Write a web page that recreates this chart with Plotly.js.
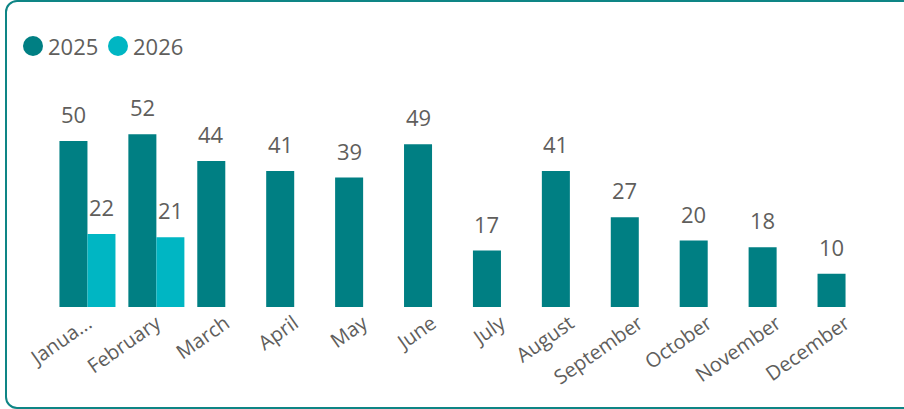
<!DOCTYPE html>
<html>
<head>
<meta charset="utf-8">
<script src="https://cdn.plot.ly/plotly-3.0.1.min.js"></script>
<style>
  html, body { margin:0; padding:0; width:904px; height:409px; overflow:hidden; background:#fff; }
  #frame { position:absolute; left:5px; top:0px; width:920px; height:405px; border:2px solid #0E8585; border-radius:12px; }
  #chart { position:absolute; left:0; top:0; width:904px; height:409px; }
</style>
</head>
<body>
<div id="frame"></div>
<div id="chart"></div>
<script>
const months = ["January","February","March","April","May","June","July","August","September","October","November","December"];
const tickLabels = ["Janua...","February","March","April","May","June","July","August","September","October","November","December"];
const values2025 = [50,52,44,41,39,49,17,41,27,20,18,10];
const values2026 = [22,21,null,null,null,null,null,null,null,null,null,null];
const seriesNames = ["2025","2026"];
const colors = ["#007F83","#00B6C3"];

const FONT = "'Segoe UI','Open Sans',sans-serif";
const TEXT = "#605E5C";

const traces = [
  {type:"bar", name:seriesNames[0], x:months, y:values2025, marker:{color:colors[0]}, showlegend:false},
  {type:"bar", name:seriesNames[1], x:months, y:values2026, marker:{color:colors[1]}, showlegend:false}
];

// plot-area geometry (pixels) for converting legend pixel positions to paper coords
const L = 53, R = 24, T = 100, B = 102, W = 904, H = 409;
const pw = W - L - R, ph = H - T - B;
const px2x = p => (p - L) / pw;
const py2y = p => (H - B - p) / ph;

const annotations = [];
const shapes = [];
[values2025, values2026].forEach((vals, si) => {
  vals.forEach((v, i) => {
    if (v === null) return;
    annotations.push({
      x: months[i], y: v, xref:"x", yref:"y",
      text: String(v), showarrow:false,
      xanchor:"center", yanchor:"middle",
      xshift: si === 0 ? -14 : 14, yshift: 27,
      font:{family:FONT, size:22, color:TEXT}
    });
  });
});

// custom legend: circle + label
const legendCircleX = [33, 118];
const legendY = 46;
seriesNames.forEach((name, si) => {
  shapes.push({
    type:"circle", xref:"paper", yref:"paper",
    xsizemode:"pixel", ysizemode:"pixel",
    xanchor: px2x(legendCircleX[si]), yanchor: py2y(legendY),
    x0:-10, x1:10, y0:-10, y1:10,
    fillcolor: colors[si], line:{width:0}
  });
  annotations.push({
    xref:"paper", yref:"paper", x: px2x(legendCircleX[si] + 13), y: py2y(legendY),
    xanchor:"left", yanchor:"middle", showarrow:false,
    text: name, font:{family:FONT, size:22, color:TEXT}
  });
});

const layout = {
  width:W, height:H,
  margin:{l:L, r:R, t:T, b:B},
  paper_bgcolor:"rgba(0,0,0,0)", plot_bgcolor:"rgba(0,0,0,0)",
  barmode:"group", bargap:0.187, bargroupgap:0,
  showlegend:false,
  xaxis:{type:"category", tickmode:"array", tickvals:months, ticktext:tickLabels,
         tickangle:-35, ticks:"", showline:false, showgrid:false, zeroline:false,
         automargin:false,
         tickfont:{family:FONT, size:20, color:TEXT}},
  yaxis:{range:[0,62.35], visible:false, showgrid:false, zeroline:false, fixedrange:true},
  annotations: annotations,
  shapes: shapes
};

Plotly.newPlot("chart", traces, layout, {displayModeBar:false, staticPlot:true});
</script>
</body>
</html>
